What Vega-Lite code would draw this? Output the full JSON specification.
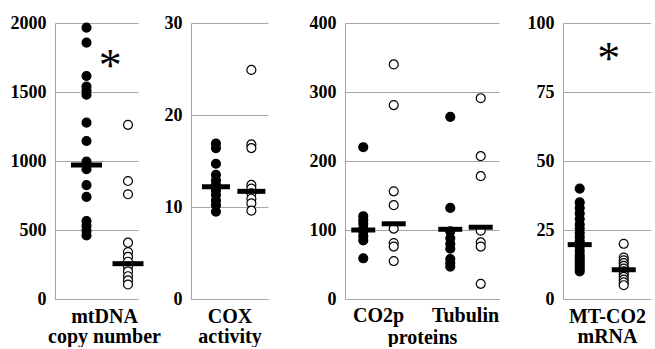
{
  "$schema": "https://vega.github.io/schema/vega-lite/v6.json",
  "padding": {"left": 7, "top": 14, "right": 0, "bottom": 0},
  "spacing": 3,
  "bounds": "full",
  "config": {
    "view": {"stroke": null},
    "font": "Liberation Serif",
    "style": {"guide-label": {"font": "Liberation Serif", "fontWeight": "bold"}, "guide-title": {"font": "Liberation Serif", "fontWeight": "bold"}},
    "axis": {
      "labelFont": "Liberation Serif", "labelFontSize": 18, "labelFontWeight": "bold", "labelColor": "#000",
      "titleFont": "Liberation Serif", "titleFontSize": 20, "titleFontWeight": "bold", "titleColor": "#000",
      "gridColor": "#a6a6a6", "gridWidth": 1, "domainColor": "#a6a6a6", "domainWidth": 1,
      "ticks": false, "titleLineHeight": 20
    },
    "axisY": {"grid": true, "labelPadding": 9, "domain": true, "format": "d", "labelFont": "Liberation Serif"},
    "axisX": {"grid": false, "labels": false, "titlePadding": 7}
  },
  "datasets": {
    "points": [
      {"panel": "mtDNA", "group": "Control", "value": 1967},
      {"panel": "mtDNA", "group": "Control", "value": 1858},
      {"panel": "mtDNA", "group": "Control", "value": 1616},
      {"panel": "mtDNA", "group": "Control", "value": 1540},
      {"panel": "mtDNA", "group": "Control", "value": 1510},
      {"panel": "mtDNA", "group": "Control", "value": 1480},
      {"panel": "mtDNA", "group": "Control", "value": 1278},
      {"panel": "mtDNA", "group": "Control", "value": 1145},
      {"panel": "mtDNA", "group": "Control", "value": 995},
      {"panel": "mtDNA", "group": "Control", "value": 970},
      {"panel": "mtDNA", "group": "Control", "value": 940},
      {"panel": "mtDNA", "group": "Control", "value": 825},
      {"panel": "mtDNA", "group": "Control", "value": 740},
      {"panel": "mtDNA", "group": "Control", "value": 565},
      {"panel": "mtDNA", "group": "Control", "value": 530},
      {"panel": "mtDNA", "group": "Control", "value": 495},
      {"panel": "mtDNA", "group": "Control", "value": 460},
      {"panel": "mtDNA", "group": "Patient", "value": 1262},
      {"panel": "mtDNA", "group": "Patient", "value": 855},
      {"panel": "mtDNA", "group": "Patient", "value": 759},
      {"panel": "mtDNA", "group": "Patient", "value": 408},
      {"panel": "mtDNA", "group": "Patient", "value": 340},
      {"panel": "mtDNA", "group": "Patient", "value": 305},
      {"panel": "mtDNA", "group": "Patient", "value": 270},
      {"panel": "mtDNA", "group": "Patient", "value": 235},
      {"panel": "mtDNA", "group": "Patient", "value": 200},
      {"panel": "mtDNA", "group": "Patient", "value": 165},
      {"panel": "mtDNA", "group": "Patient", "value": 135},
      {"panel": "mtDNA", "group": "Patient", "value": 105},
      {"panel": "COX", "group": "Control", "value": 16.9},
      {"panel": "COX", "group": "Control", "value": 16.4},
      {"panel": "COX", "group": "Control", "value": 14.7},
      {"panel": "COX", "group": "Control", "value": 13.5},
      {"panel": "COX", "group": "Control", "value": 12.9},
      {"panel": "COX", "group": "Control", "value": 12.4},
      {"panel": "COX", "group": "Control", "value": 11.8},
      {"panel": "COX", "group": "Control", "value": 11.3},
      {"panel": "COX", "group": "Control", "value": 10.7},
      {"panel": "COX", "group": "Control", "value": 10.2},
      {"panel": "COX", "group": "Control", "value": 9.5},
      {"panel": "COX", "group": "Patient", "value": 24.9},
      {"panel": "COX", "group": "Patient", "value": 16.8},
      {"panel": "COX", "group": "Patient", "value": 16.4},
      {"panel": "COX", "group": "Patient", "value": 12.4},
      {"panel": "COX", "group": "Patient", "value": 12.0},
      {"panel": "COX", "group": "Patient", "value": 11.5},
      {"panel": "COX", "group": "Patient", "value": 10.9},
      {"panel": "COX", "group": "Patient", "value": 10.4},
      {"panel": "COX", "group": "Patient", "value": 9.6},
      {"panel": "proteins", "protein": "CO2p", "group": "Control", "value": 220},
      {"panel": "proteins", "protein": "CO2p", "group": "Control", "value": 120},
      {"panel": "proteins", "protein": "CO2p", "group": "Control", "value": 114},
      {"panel": "proteins", "protein": "CO2p", "group": "Control", "value": 109},
      {"panel": "proteins", "protein": "CO2p", "group": "Control", "value": 102},
      {"panel": "proteins", "protein": "CO2p", "group": "Control", "value": 98},
      {"panel": "proteins", "protein": "CO2p", "group": "Control", "value": 91},
      {"panel": "proteins", "protein": "CO2p", "group": "Control", "value": 85},
      {"panel": "proteins", "protein": "CO2p", "group": "Control", "value": 59},
      {"panel": "proteins", "protein": "CO2p", "group": "Patient", "value": 340},
      {"panel": "proteins", "protein": "CO2p", "group": "Patient", "value": 281},
      {"panel": "proteins", "protein": "CO2p", "group": "Patient", "value": 156},
      {"panel": "proteins", "protein": "CO2p", "group": "Patient", "value": 136},
      {"panel": "proteins", "protein": "CO2p", "group": "Patient", "value": 102},
      {"panel": "proteins", "protein": "CO2p", "group": "Patient", "value": 81},
      {"panel": "proteins", "protein": "CO2p", "group": "Patient", "value": 76},
      {"panel": "proteins", "protein": "CO2p", "group": "Patient", "value": 55},
      {"panel": "proteins", "protein": "Tubulin", "group": "Control", "value": 264},
      {"panel": "proteins", "protein": "Tubulin", "group": "Control", "value": 132},
      {"panel": "proteins", "protein": "Tubulin", "group": "Control", "value": 98},
      {"panel": "proteins", "protein": "Tubulin", "group": "Control", "value": 88},
      {"panel": "proteins", "protein": "Tubulin", "group": "Control", "value": 80},
      {"panel": "proteins", "protein": "Tubulin", "group": "Control", "value": 73},
      {"panel": "proteins", "protein": "Tubulin", "group": "Control", "value": 58},
      {"panel": "proteins", "protein": "Tubulin", "group": "Control", "value": 52},
      {"panel": "proteins", "protein": "Tubulin", "group": "Control", "value": 47},
      {"panel": "proteins", "protein": "Tubulin", "group": "Patient", "value": 291},
      {"panel": "proteins", "protein": "Tubulin", "group": "Patient", "value": 207},
      {"panel": "proteins", "protein": "Tubulin", "group": "Patient", "value": 178},
      {"panel": "proteins", "protein": "Tubulin", "group": "Patient", "value": 99},
      {"panel": "proteins", "protein": "Tubulin", "group": "Patient", "value": 82},
      {"panel": "proteins", "protein": "Tubulin", "group": "Patient", "value": 76},
      {"panel": "proteins", "protein": "Tubulin", "group": "Patient", "value": 22},
      {"panel": "MT-CO2", "group": "Control", "value": 40},
      {"panel": "MT-CO2", "group": "Control", "value": 35},
      {"panel": "MT-CO2", "group": "Control", "value": 33},
      {"panel": "MT-CO2", "group": "Control", "value": 31},
      {"panel": "MT-CO2", "group": "Control", "value": 29},
      {"panel": "MT-CO2", "group": "Control", "value": 27},
      {"panel": "MT-CO2", "group": "Control", "value": 25.5},
      {"panel": "MT-CO2", "group": "Control", "value": 24},
      {"panel": "MT-CO2", "group": "Control", "value": 22.5},
      {"panel": "MT-CO2", "group": "Control", "value": 21},
      {"panel": "MT-CO2", "group": "Control", "value": 20},
      {"panel": "MT-CO2", "group": "Control", "value": 19},
      {"panel": "MT-CO2", "group": "Control", "value": 17.5},
      {"panel": "MT-CO2", "group": "Control", "value": 16},
      {"panel": "MT-CO2", "group": "Control", "value": 15},
      {"panel": "MT-CO2", "group": "Control", "value": 14},
      {"panel": "MT-CO2", "group": "Control", "value": 13},
      {"panel": "MT-CO2", "group": "Control", "value": 12},
      {"panel": "MT-CO2", "group": "Control", "value": 11},
      {"panel": "MT-CO2", "group": "Control", "value": 10},
      {"panel": "MT-CO2", "group": "Patient", "value": 20},
      {"panel": "MT-CO2", "group": "Patient", "value": 15},
      {"panel": "MT-CO2", "group": "Patient", "value": 14},
      {"panel": "MT-CO2", "group": "Patient", "value": 13},
      {"panel": "MT-CO2", "group": "Patient", "value": 12},
      {"panel": "MT-CO2", "group": "Patient", "value": 11},
      {"panel": "MT-CO2", "group": "Patient", "value": 10},
      {"panel": "MT-CO2", "group": "Patient", "value": 9},
      {"panel": "MT-CO2", "group": "Patient", "value": 8},
      {"panel": "MT-CO2", "group": "Patient", "value": 7},
      {"panel": "MT-CO2", "group": "Patient", "value": 6},
      {"panel": "MT-CO2", "group": "Patient", "value": 5}
    ],
    "medians": [
      {"panel": "mtDNA", "group": "Control", "value": 971},
      {"panel": "mtDNA", "group": "Patient", "value": 256},
      {"panel": "COX", "group": "Control", "value": 12.2},
      {"panel": "COX", "group": "Patient", "value": 11.7},
      {"panel": "proteins", "protein": "CO2p", "group": "Control", "value": 100},
      {"panel": "proteins", "protein": "CO2p", "group": "Patient", "value": 109},
      {"panel": "proteins", "protein": "Tubulin", "group": "Control", "value": 101},
      {"panel": "proteins", "protein": "Tubulin", "group": "Patient", "value": 104},
      {"panel": "MT-CO2", "group": "Control", "value": 19.7},
      {"panel": "MT-CO2", "group": "Patient", "value": 10.6}
    ],
    "stars": [
      {"panel": "mtDNA", "group": "*", "value": 1725},
      {"panel": "MT-CO2", "group": "*", "value": 88.6}
    ]
  },
  "hconcat": [
    {
      "width": 83, "height": 276,
      "encoding": {
        "x": {"field": "group", "type": "nominal", "scale": {"type": "point", "domain": ["Control", "*", "Patient"], "padding": 1.174, "align": 0.759}, "axis": {"title": ["mtDNA", "copy number"], "titleX": 49}},
        "y": {"field": "value", "type": "quantitative", "scale": {"domain": [0, 2000], "nice": false}, "axis": {"values": [0, 500, 1000, 1500, 2000], "title": null, "minExtent": 48, "format": "d", "labelFont": "Liberation Serif"}}
      },
      "layer": [
        {"data": {"name": "points"}, "transform": [{"filter": "datum.panel === 'mtDNA'"}],
         "mark": {"type": "circle", "size": 80, "stroke": "#000", "strokeWidth": 1.2, "opacity": 1},
         "encoding": {"fill": {"field": "group", "type": "nominal", "scale": {"domain": ["Control", "Patient"], "range": ["#000", "#fff"]}, "legend": null}}},
        {"data": {"name": "medians"}, "transform": [{"filter": "datum.panel === 'mtDNA'"}],
         "mark": {"type": "tick", "thickness": 5, "size": 31, "color": "#000", "opacity": 1}},
        {"data": {"name": "stars"}, "transform": [{"filter": "datum.panel === 'mtDNA'"}],
         "mark": {"type": "text", "text": "*", "font": "Liberation Serif", "fontSize": 46, "dx": 3, "dy": 6, "color": "#000"}}
      ]
    },
    {
      "width": 77, "height": 276,
      "encoding": {
        "x": {"field": "group", "type": "nominal", "scale": {"type": "point", "domain": ["Control", "Patient"], "padding": 0.587, "align": 0.6}, "axis": {"title": ["COX", "activity"]}},
        "y": {"field": "value", "type": "quantitative", "scale": {"domain": [0, 30], "nice": false}, "axis": {"values": [0, 10, 20, 30], "title": null, "minExtent": 26, "format": "d", "labelFont": "Liberation Serif"}}
      },
      "layer": [
        {"data": {"name": "points"}, "transform": [{"filter": "datum.panel === 'COX'"}],
         "mark": {"type": "circle", "size": 80, "stroke": "#000", "strokeWidth": 1.2, "opacity": 1},
         "encoding": {"fill": {"field": "group", "type": "nominal", "scale": {"domain": ["Control", "Patient"], "range": ["#000", "#fff"]}, "legend": null}}},
        {"data": {"name": "medians"}, "transform": [{"filter": "datum.panel === 'COX'"}],
         "mark": {"type": "tick", "thickness": 5, "size": 28, "color": "#000", "opacity": 1}}
      ]
    },
    {
      "width": 154, "height": 276,
      "encoding": {
        "x": {"field": "protein", "type": "nominal", "scale": {"type": "band", "domain": ["CO2p", "Tubulin"], "paddingInner": 0.3, "paddingOuter": 0.035}, "axis": {"labels": true, "labelFontSize": 20, "labelAngle": 0, "labelPadding": 6, "title": "proteins", "titlePadding": 2}},
        "xOffset": {"field": "group", "type": "nominal", "scale": {"domain": ["Control", "Patient"], "paddingInner": 0, "paddingOuter": 0}},
        "y": {"field": "value", "type": "quantitative", "scale": {"domain": [0, 400], "nice": false}, "axis": {"values": [0, 100, 200, 300, 400], "title": null, "minExtent": 74, "format": "d", "labelFont": "Liberation Serif"}}
      },
      "layer": [
        {"data": {"name": "points"}, "transform": [{"filter": "datum.panel === 'proteins'"}],
         "mark": {"type": "circle", "size": 80, "stroke": "#000", "strokeWidth": 1.2, "opacity": 1},
         "encoding": {"fill": {"field": "group", "type": "nominal", "scale": {"domain": ["Control", "Patient"], "range": ["#000", "#fff"]}, "legend": null}}},
        {"data": {"name": "medians"}, "transform": [{"filter": "datum.panel === 'proteins'"}],
         "mark": {"type": "tick", "thickness": 5, "size": 24, "color": "#000", "opacity": 1}}
      ]
    },
    {
      "width": 88, "height": 276,
      "encoding": {
        "x": {"field": "group", "type": "nominal", "scale": {"type": "point", "domain": ["Control", "*", "Patient"], "padding": 1.222, "align": 0.38}, "axis": {"title": ["MT-CO2", "mRNA"]}},
        "y": {"field": "value", "type": "quantitative", "scale": {"domain": [0, 100], "nice": false}, "axis": {"values": [0, 25, 50, 75, 100], "title": null, "minExtent": 61, "format": "d", "labelFont": "Liberation Serif"}}
      },
      "layer": [
        {"data": {"name": "points"}, "transform": [{"filter": "datum.panel === 'MT-CO2'"}],
         "mark": {"type": "circle", "size": 80, "stroke": "#000", "strokeWidth": 1.2, "opacity": 1},
         "encoding": {"fill": {"field": "group", "type": "nominal", "scale": {"domain": ["Control", "Patient"], "range": ["#000", "#fff"]}, "legend": null}}},
        {"data": {"name": "medians"}, "transform": [{"filter": "datum.panel === 'MT-CO2'"}],
         "mark": {"type": "tick", "thickness": 5, "size": 24, "color": "#000", "opacity": 1}},
        {"data": {"name": "stars"}, "transform": [{"filter": "datum.panel === 'MT-CO2'"}],
         "mark": {"type": "text", "text": "*", "font": "Liberation Serif", "fontSize": 46, "dx": 7, "dy": 6, "color": "#000"}}
      ]
    }
  ]
}
